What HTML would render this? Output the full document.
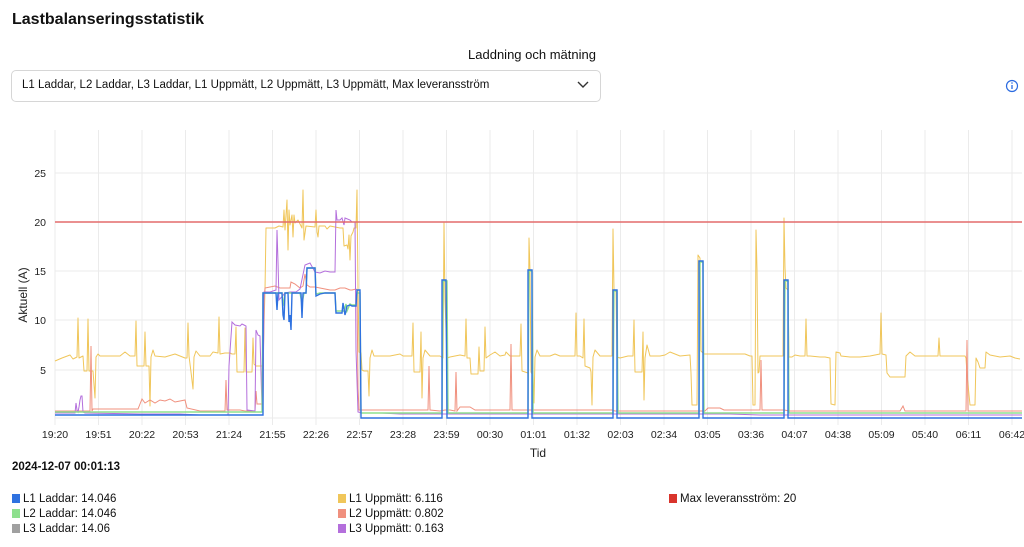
<!DOCTYPE html>
<html><head><meta charset="utf-8"><style>
body{margin:0;width:1024px;height:547px;background:#fff;font-family:"Liberation Sans",sans-serif;color:#111;position:relative;overflow:hidden}
.t{position:absolute;white-space:nowrap}
.lg{position:absolute;font-size:11.5px;white-space:nowrap}
.lg i{display:inline-block;width:8px;height:9px;margin-right:3px;vertical-align:-1px}
</style></head><body>
<div class="t" style="left:12px;top:11px;font-size:16px;font-weight:bold">Lastbalanseringsstatistik</div>
<div class="t" style="left:0;width:1064px;text-align:center;top:47px;font-size:13px">Laddning och mätning</div>
<div style="position:absolute;left:11px;top:70px;width:588px;height:30px;border:1px solid #d6d6d6;border-radius:5px"></div>
<div class="t" style="left:22px;top:79px;font-size:11.5px">L1 Laddar, L2 Laddar, L3 Laddar, L1 Uppmätt, L2 Uppmätt, L3 Uppmätt, Max leveransström</div>
<svg style="position:absolute;left:576px;top:80px" width="14" height="10"><path d="M2 2 L7 7 L12 2" fill="none" stroke="#333" stroke-width="1.4"/></svg>
<svg style="position:absolute;left:1005px;top:79px" width="14" height="14"><circle cx="7" cy="7" r="5.5" fill="none" stroke="#2a6ae0" stroke-width="1.2"/><line x1="7" y1="6" x2="7" y2="10" stroke="#2a6ae0" stroke-width="1.3"/><circle cx="7" cy="4" r="0.8" fill="#2a6ae0"/></svg>
<svg style="position:absolute;left:0;top:0" width="1024" height="547" font-family="Liberation Sans, sans-serif" font-size="10.5">
<g stroke="#ebebeb" stroke-width="1">
<line x1="55" y1="173" x2="1022" y2="173"/><line x1="55" y1="222" x2="1022" y2="222"/><line x1="55" y1="271" x2="1022" y2="271"/><line x1="55" y1="320" x2="1022" y2="320"/><line x1="55" y1="370" x2="1022" y2="370"/><line x1="55" y1="418" x2="1022" y2="418"/>
<line x1="55" y1="130" x2="55" y2="425"/><line x1="98.5" y1="130" x2="98.5" y2="425"/><line x1="142" y1="130" x2="142" y2="425"/><line x1="185.5" y1="130" x2="185.5" y2="425"/><line x1="229" y1="130" x2="229" y2="425"/><line x1="272.5" y1="130" x2="272.5" y2="425"/><line x1="316" y1="130" x2="316" y2="425"/><line x1="359.5" y1="130" x2="359.5" y2="425"/><line x1="403" y1="130" x2="403" y2="425"/><line x1="446.5" y1="130" x2="446.5" y2="425"/><line x1="490" y1="130" x2="490" y2="425"/><line x1="533.5" y1="130" x2="533.5" y2="425"/><line x1="577" y1="130" x2="577" y2="425"/><line x1="620.5" y1="130" x2="620.5" y2="425"/><line x1="664" y1="130" x2="664" y2="425"/><line x1="707.5" y1="130" x2="707.5" y2="425"/><line x1="751" y1="130" x2="751" y2="425"/><line x1="794.5" y1="130" x2="794.5" y2="425"/><line x1="838" y1="130" x2="838" y2="425"/><line x1="881.5" y1="130" x2="881.5" y2="425"/><line x1="925" y1="130" x2="925" y2="425"/><line x1="968.5" y1="130" x2="968.5" y2="425"/><line x1="1012" y1="130" x2="1012" y2="425"/>
</g>
<g text-anchor="end" fill="#222"><text x="46" y="177">25</text><text x="46" y="226">20</text><text x="46" y="275">15</text><text x="46" y="324">10</text><text x="46" y="374">5</text></g>
<g text-anchor="middle" fill="#222">
<text x="55" y="438">19:20</text><text x="98.5" y="438">19:51</text><text x="142" y="438">20:22</text><text x="185.5" y="438">20:53</text><text x="229" y="438">21:24</text><text x="272.5" y="438">21:55</text><text x="316" y="438">22:26</text><text x="359.5" y="438">22:57</text><text x="403" y="438">23:28</text><text x="446.5" y="438">23:59</text><text x="490" y="438">00:30</text><text x="533.5" y="438">01:01</text><text x="577" y="438">01:32</text><text x="620.5" y="438">02:03</text><text x="664" y="438">02:34</text><text x="707.5" y="438">03:05</text><text x="751" y="438">03:36</text><text x="794.5" y="438">04:07</text><text x="838" y="438">04:38</text><text x="881.5" y="438">05:09</text><text x="925" y="438">05:40</text><text x="968.5" y="438">06:11</text><text x="1012" y="438">06:42</text>
<text x="538" y="457" font-size="12">Tid</text>
<text transform="translate(27,295) rotate(-90)" font-size="12">Aktuell (A)</text>
</g>
<!-- L1 Uppmätt yellow -->
<polyline fill="none" stroke="#f0c65a" stroke-width="1" stroke-linejoin="round" points="55,361 62,358 70,355 73,359 77,357 78,318 79,358 83,356 84,371 87,371 88,319 89,371 93,371 95,398 96,357 98,354 100,356 120,356 125,352 130,356 135,356 136,321 137,366 144,366 145,332 146,366 149,366 150,406 151,357 153,350 155,356 165,357 175,354 180,356 185,358 187,358 188,323 189,356 191,372 193,389 194,357 196,351 200,356 210,356 213,352 218,353 219,317 220,354 225,353 230,353 232,354 235,354 236,327 237,372 244,372 245,328 246,372 252,372 253,338 254,364 256,366 260,366 263,366 264,325 265,290 266,228 275,228 279,226 283,227 284,210 285,230 287,200 288,250 289,210 290,225 292,215 293,237 294,215 295,223 298,220 302,228 303,190 304,240 306,226 315,227 316,210 317,232 318,237 319,226 325,226 327,229 330,226 340,228 343,228 344,246 347,245 348,249 349,235 350,260 351,236 353,232 354,228 356,228 357,190 358,288 359,352 361,353 362,370 364,371 368,371 369,396 370,358 372,350 374,356 380,356 390,356 400,354 403,356 410,356 412,356 413,323 414,372 420,372 421,332 422,398 423,358 425,350 430,356 440,356 443,358 444,223 445,300 447,358 450,357 455,356 460,355 465,356 466,319 467,358 470,358 471,374 478,374 479,347 480,371 484,371 485,327 486,358 490,355 495,352 500,356 505,355 506,352 510,356 520,356 521,324 522,371 528,373 529,238 530,272 531,372 533,376 534,403 535,357 537,350 540,356 550,356 555,354 560,356 570,356 575,356 576,313 577,356 580,356 583,358 584,319 585,366 590,368 591,372 592,405 593,357 595,350 600,356 612,356 613,229 614,290 616,292 617,357 620,358 628,356 633,356 634,320 635,372 642,372 643,332 644,400 645,358 647,345 650,356 660,356 665,355 670,352 680,356 690,355 691,373 692,405 697,405 698,255 700,258 701,351 704,354 720,354 740,354 745,354 750,356 752,356 753,405 755,405 756,230 757,270 758,373 759,372 760,356 770,356 775,356 780,356 783,356 784,218 785,268 786,288 788,290 789,357 792,357 795,355 800,356 805,356 806,319 807,356 810,356 820,357 825,357 830,358 831,404 835,405 836,352 840,353 841,356 850,357 860,357 870,356 880,354 881,313 882,354 886,355 887,373 890,377 895,377 900,377 905,377 906,356 910,352 915,356 920,356 930,356 935,356 938,356 939,338 940,356 945,356 950,356 960,356 965,356 966,358 967,374 970,405 975,405 976,358 978,362 980,368 985,368 986,352 990,355 1000,357 1010,356 1015,358 1020,359"/>
<!-- L2 Uppmätt red -->
<polyline fill="none" stroke="#f0907e" stroke-width="1" points="55,411 90,411 91,346 92,411 93,409 138,409 140,404 142,399 145,403 150,400 155,403 160,400 165,401 170,399 175,402 180,401 185,400 187,408 200,411 210,411 220,411 225,411 226,380 227,410 233,410 240,410 245,411 252,411 255,411 256,391 257,404 260,404 263,404 264,300 265,288 270,287 275,286 280,288 290,288 291,282 295,284 300,288 303,286 305,274 307,285 310,287 315,287 320,288 325,289 330,290 335,290 340,288 345,288 350,290 352,290 356,289 357,290 358,388 359,410 370,410 400,410 420,410 428,410 429,366 430,410 440,411 445,410 450,410 455,411 456,372 457,411 460,407 470,407 475,410 480,410 490,410 510,410 511,344 512,410 520,410 530,410 540,410 560,410 580,410 600,410 610,410 612,410 615,411 620,411 630,411 640,411 660,411 690,411 692,411 700,411 705,411 708,408 720,408 724,410 740,410 760,410 761,360 762,410 770,410 784,410 790,411 800,411 820,411 830,411 840,411 860,411 880,411 900,411 903,406 905,411 910,411 920,411 940,411 960,411 966,411 967,340 968,411 975,411 990,411 1022,411"/>
<!-- L3 Uppmätt purple -->
<polyline fill="none" stroke="#b46fdc" stroke-width="1" points="55,413 75,413 76,403 77,410 78,412 79,407 80,400 81,396 82,396 83,412 85,413 140,414 180,414 200,415 228,415 229,366 232,322 235,325 240,326 242,324 244,325 246,326 247,410 255,411 256,330 258,335 260,336 262,410 263,410 264,292 270,292 276,290 277,230 278,262 279,300 285,293 290,292 295,292 296,292 300,289 305,265 310,263 315,272 320,273 325,271 330,272 335,272 336,210 337,220 340,220 342,218 344,225 345,218 350,220 352,222 355,222 356,350 358,412 362,413 380,413 400,414 440,414 450,414 500,414 530,414 540,414 580,414 620,414 680,414 700,414 730,414 760,415 800,415 850,415 900,415 950,415 1022,415"/>
<!-- L3 Laddar gray / L2 green -->
<polyline fill="none" stroke="#8ee08e" stroke-width="1.4" points="55,412 262,412 263,293 280,293 282,293 283,306 285,293 300,293 302,304 304,293 306,293 307,268 315,268 316,294 320,293 335,293 336,311 344,311 346,304 347,311 350,304 352,305 356,305 357,293 360,293 361,413 442,413 443,281 447,281 448,413 528,413 529,271 532,271 533,413 613,413 614,291 617,291 618,413 699,413 700,262 703,262 704,413 784,413 785,281 788,281 789,413 1022,413"/>
<!-- L1 Laddar blue -->
<polyline fill="none" stroke="#2f72e0" stroke-width="1.4" points="55,415 262,415 263,415 263,293 275,293 276,293 277,310 278,293 282,293 283,315 284,320 285,293 288,293 289,322 290,315 291,330 292,293 300,293 301,293 302,318 303,293 306,293 307,268 315,268 316,296 320,294 325,293 335,293 336,313 340,313 342,313 343,303 345,315 347,306 350,305 352,306 356,306 357,290 360,290 361,418 442,418 442,280 446,280 447,418 528,418 528,270 532,270 532,418 613,418 613,290 617,290 617,418 699,418 699,261 703,261 703,418 784,418 784,280 788,280 788,418 1022,418"/>
<line x1="55" y1="222" x2="1022" y2="222" stroke="#e36c6c" stroke-width="1.5"/>
</svg>
<div class="t" style="left:12px;top:461px;font-size:11.5px;font-weight:bold">2024-12-07 00:01:13</div>
<div class="lg" style="left:12px;top:493px"><i style="background:#2f72e0"></i>L1 Laddar: 14.046</div>
<div class="lg" style="left:12px;top:508px"><i style="background:#8ee08e"></i>L2 Laddar: 14.046</div>
<div class="lg" style="left:12px;top:523px"><i style="background:#a0a0a0"></i>L3 Laddar: 14.06</div>
<div class="lg" style="left:338px;top:493px"><i style="background:#f0c65a"></i>L1 Uppmätt: 6.116</div>
<div class="lg" style="left:338px;top:508px"><i style="background:#f0907e"></i>L2 Uppmätt: 0.802</div>
<div class="lg" style="left:338px;top:523px"><i style="background:#b46fdc"></i>L3 Uppmätt: 0.163</div>
<div class="lg" style="left:669px;top:493px"><i style="background:#d9342c"></i>Max leveransström: 20</div>
</body></html>
